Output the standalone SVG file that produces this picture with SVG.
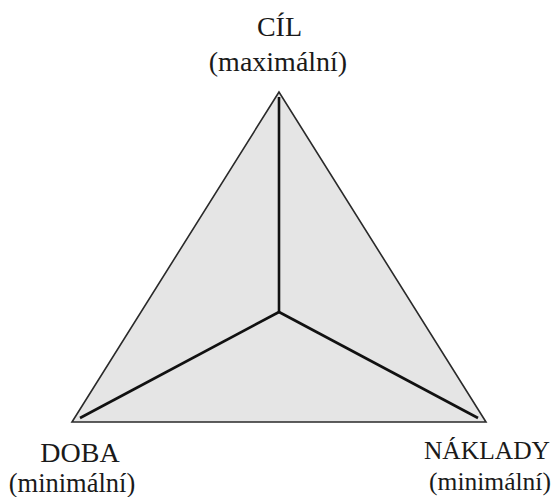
<svg xmlns="http://www.w3.org/2000/svg" width="555" height="497" viewBox="0 0 555 497">
<style>
.lbl{font-family:"Liberation Serif","Times New Roman",serif;fill:#1a1a1a;text-anchor:middle}
.tri{fill:#e5e5e5;stroke:#2a2a2a;stroke-width:1.6;stroke-linejoin:miter}
.ax{stroke:#111;stroke-width:2.6;fill:none;stroke-linecap:butt}
</style>
<rect width="555" height="497" fill="#ffffff"/>
<g id="triangle">
<polygon class="tri" points="279,92 72,422 486,422"/>
</g>
<g id="connectors">
<line class="ax" x1="279" y1="312" x2="279" y2="97"/>
<line class="ax" x1="279" y1="312" x2="80" y2="418"/>
<line class="ax" x1="279" y1="312" x2="478" y2="418"/>
</g>
<g id="node-cil">
<text class="lbl" x="279.5" y="36" font-size="28">CÍL</text>
<text class="lbl" x="278" y="71" font-size="28">(maximální)</text>
</g>
<g id="node-doba">
<text class="lbl" x="80" y="462" font-size="28">DOBA</text>
<text class="lbl" x="72" y="492" font-size="26.5">(minimální)</text>
</g>
<g id="node-naklady">
<text class="lbl" x="487" y="459" font-size="25.5">NÁKLADY</text>
<text class="lbl" x="490" y="490" font-size="25.5">(minimální)</text>
</g>
</svg>
